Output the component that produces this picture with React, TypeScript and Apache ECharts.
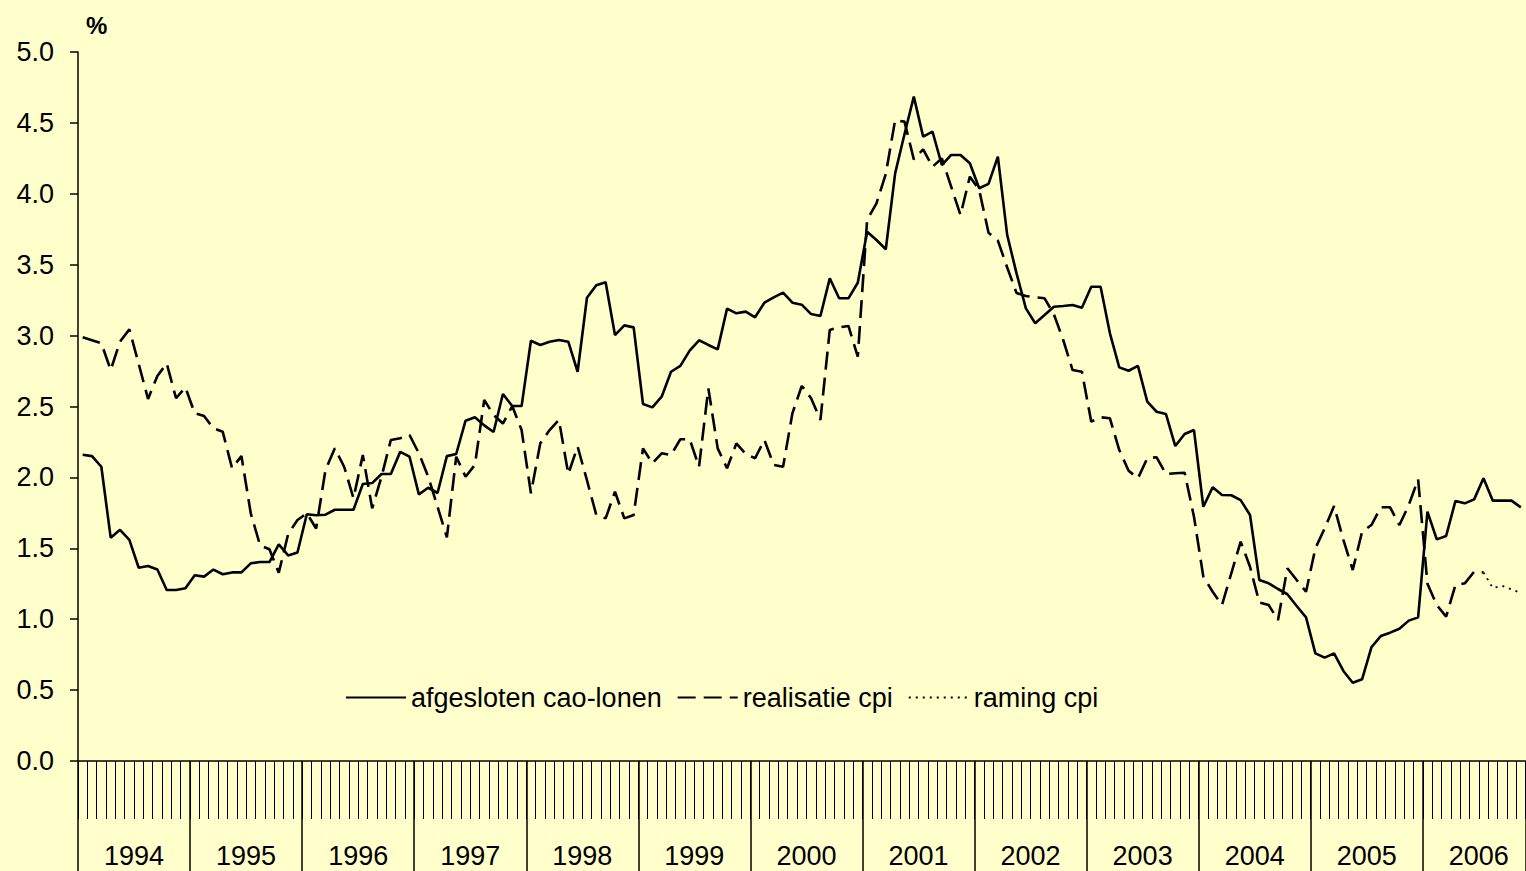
import React, { useEffect, useRef } from "react";
import * as echarts from "echarts";

const years = ["1994", "1995", "1996", "1997", "1998", "1999", "2000", "2001", "2002", "2003", "2004", "2005", "2006"];
const monthsInLastYear = 11;

const categories: string[] = [];
years.forEach((y, yi) => {
  const n = yi === years.length - 1 ? monthsInLastYear : 12;
  for (let m = 1; m <= n; m++) categories.push(`${y}-${String(m).padStart(2, "0")}`);
});

const yTicks = [0, 0.5, 1, 1.5, 2, 2.5, 3, 3.5, 4, 4.5, 5];

const caoLonen = [
  2.16, 2.15, 2.075, 1.575, 1.63, 1.56, 1.363, 1.375, 1.35, 1.206, 1.206, 1.218,
  1.31, 1.3, 1.35, 1.317, 1.33, 1.33, 1.394, 1.403, 1.403, 1.528, 1.45, 1.47,
  1.74, 1.733, 1.737, 1.772, 1.772, 1.772, 1.953, 1.96, 2.024, 2.024, 2.18, 2.146,
  1.88, 1.927, 1.89, 2.15, 2.165, 2.4, 2.424, 2.367, 2.32, 2.588, 2.503, 2.503,
  2.964, 2.934, 2.957, 2.969, 2.957, 2.745, 3.267, 3.355, 3.376, 3.004, 3.072, 3.058,
  2.518, 2.494, 2.569, 2.745, 2.786, 2.894, 2.967, 2.934, 2.903, 3.19, 3.157, 3.169,
  3.129, 3.232, 3.27, 3.303, 3.232, 3.218, 3.152, 3.138, 3.404, 3.263, 3.263, 3.373,
  3.733, 3.674, 3.609, 4.144, 4.42, 4.685, 4.403, 4.438, 4.203, 4.274, 4.274, 4.215,
  4.039, 4.07, 4.262, 3.709, 3.439, 3.192, 3.087, 3.145, 3.204, 3.209, 3.216, 3.197,
  3.345, 3.345, 3.016, 2.776, 2.752, 2.786, 2.534, 2.463, 2.447, 2.221, 2.306, 2.334,
  1.793, 1.93, 1.876, 1.874, 1.84, 1.735, 1.276, 1.253, 1.213, 1.176, 1.093, 1.013,
  0.759, 0.729, 0.759, 0.635, 0.552, 0.576, 0.802, 0.881, 0.905, 0.933, 0.99, 1.013,
  1.758, 1.563, 1.587, 1.834, 1.817, 1.845, 1.994, 1.836, 1.836, 1.836, 1.789,
];

const realisatieCpi = [
  2.988, 2.967, 2.946, 2.757, 2.957, 3.044, 2.8, 2.553, 2.715, 2.804, 2.558, 2.635,
  2.452, 2.433, 2.346, 2.322, 2.064, 2.151, 1.747, 1.52, 1.493, 1.328, 1.6, 1.7,
  1.747, 1.64, 2.052, 2.205, 2.075, 1.853, 2.158, 1.782, 2.005, 2.264, 2.276, 2.299,
  2.17, 2.005, 1.793, 1.577, 2.146, 2.005, 2.088, 2.546, 2.44, 2.38, 2.503, 2.334,
  1.888, 2.24, 2.334, 2.405, 2.024, 2.217, 1.98, 1.735, 1.711, 1.899, 1.711, 1.735,
  2.205, 2.099, 2.17, 2.158, 2.269, 2.269, 2.075, 2.628, 2.205, 2.064, 2.24, 2.165,
  2.135, 2.264, 2.088, 2.075, 2.452, 2.645, 2.558, 2.405, 3.04, 3.058, 3.068, 2.851,
  3.815, 3.933, 4.14, 4.52, 4.509, 4.243, 4.314, 4.191, 4.25, 4.05, 3.85, 4.121,
  4.027, 3.726, 3.67, 3.48, 3.3, 3.279, 3.27, 3.263, 3.15, 2.969, 2.757, 2.745,
  2.393, 2.424, 2.417, 2.193, 2.047, 1.994, 2.135, 2.142, 2.024, 2.029, 2.033, 1.723,
  1.3, 1.194, 1.1, 1.324, 1.547, 1.37, 1.117, 1.1, 0.994, 1.359, 1.276, 1.194,
  1.5, 1.641, 1.798, 1.559, 1.347, 1.617, 1.664, 1.789, 1.789, 1.664, 1.805, 1.987,
  1.25, 1.1, 1.018, 1.241, 1.253, 1.335, 1.33,
];

const ramingStartIndex = 150;
const ramingCpiValues = [1.33, 1.22, 1.235, 1.21, 1.185];

const FONT = "'Liberation Sans', Arial, Helvetica, sans-serif";

export default function App() {
  const ref = useRef<HTMLDivElement>(null);

  useEffect(() => {
    if (!ref.current) return;
    const chart = echarts.init(ref.current, undefined, { renderer: "svg" });

    const realisatie = categories.map((_, i) => (i < realisatieCpi.length ? realisatieCpi[i] : null));
    const raming = categories.map((_, i) =>
      i >= ramingStartIndex && i - ramingStartIndex < ramingCpiValues.length ? ramingCpiValues[i - ramingStartIndex] : null
    );
    const nMonths = categories.length;

    chart.setOption({
      animation: false,
      backgroundColor: "#FFFFCC",
      textStyle: { fontFamily: FONT },
      grid: { left: 78, right: 0.5, top: 52, bottom: 110, containLabel: false, outerBoundsMode: "none" },
      graphic: [
        {
          type: "text",
          left: 86,
          top: 13,
          style: { text: "%", font: `bold 24px ${FONT}`, fill: "#000" },
        },
      ],
      legend: {
        left: 340,
        top: 679,
        itemWidth: 60,
        itemHeight: 14,
        itemGap: 15,
        itemStyle: { opacity: 0, borderWidth: 0 },
        textStyle: { fontSize: 27, color: "#000", fontFamily: FONT },
        data: ["afgesloten cao-lonen", "realisatie cpi", "raming cpi"],
      },
      xAxis: [
        {
          type: "category",
          position: "bottom",
          data: categories,
          boundaryGap: true,
          axisLine: { show: true, lineStyle: { color: "#000", width: 1.5 } },
          axisTick: { show: true, interval: 0, length: 58, lineStyle: { color: "#000", width: 1 } },
          axisLabel: { show: false },
          splitLine: { show: false },
        },
        {
          type: "value",
          position: "bottom",
          offset: 0,
          min: 0,
          max: nMonths,
          interval: 12,
          axisLine: { show: false },
          axisTick: { show: true, length: 110, lineStyle: { color: "#000", width: 1.5 } },
          axisLabel: { show: false },
          splitLine: { show: false },
        },
        {
          type: "value",
          position: "bottom",
          offset: 0,
          min: 0,
          max: nMonths,
          interval: 6,
          axisLine: { show: false },
          axisTick: { show: false },
          splitLine: { show: false },
          axisLabel: {
            show: true,
            margin: 81,
            fontSize: 27,
            color: "#000",
            fontFamily: FONT,
            hideOverlap: false,
            formatter: (v: number) => {
              const r = Math.round(v);
              if (r % 12 !== 6) return "";
              return years[(r - 6) / 12] ?? "";
            },
          },
        },
      ],
      yAxis: {
        type: "value",
        min: 0,
        max: 5,
        interval: 0.5,
        axisLine: { show: true, lineStyle: { color: "#000", width: 1.5 } },
        axisTick: { show: true, length: 8, lineStyle: { color: "#000", width: 1.5 } },
        splitLine: { show: false },
        axisLabel: {
          margin: 24,
          fontSize: 27,
          color: "#000",
          fontFamily: FONT,
          formatter: (v: number) => (yTicks.includes(v) ? v.toFixed(1) : ""),
        },
      },
      series: [
        {
          name: "afgesloten cao-lonen",
          type: "line",
          data: caoLonen,
          symbol: "none",
          lineStyle: { color: "#000", width: 2.6, type: "solid" },
          itemStyle: { color: "#000" },
        },
        {
          name: "realisatie cpi",
          type: "line",
          data: realisatie,
          symbol: "none",
          lineStyle: { color: "#000", width: 2.6, type: [18, 8] },
          itemStyle: { color: "#000" },
        },
        {
          name: "raming cpi",
          type: "line",
          data: raming,
          symbol: "none",
          lineStyle: { color: "#000", width: 1.8, type: [2, 5] },
          itemStyle: { color: "#000" },
        },
      ],
    });

    return () => chart.dispose();
  }, []);

  return (
    <div
      ref={ref}
      style={{ position: "absolute", left: 0, top: 0, width: 1526, height: 871 }}
    />
  );
}
